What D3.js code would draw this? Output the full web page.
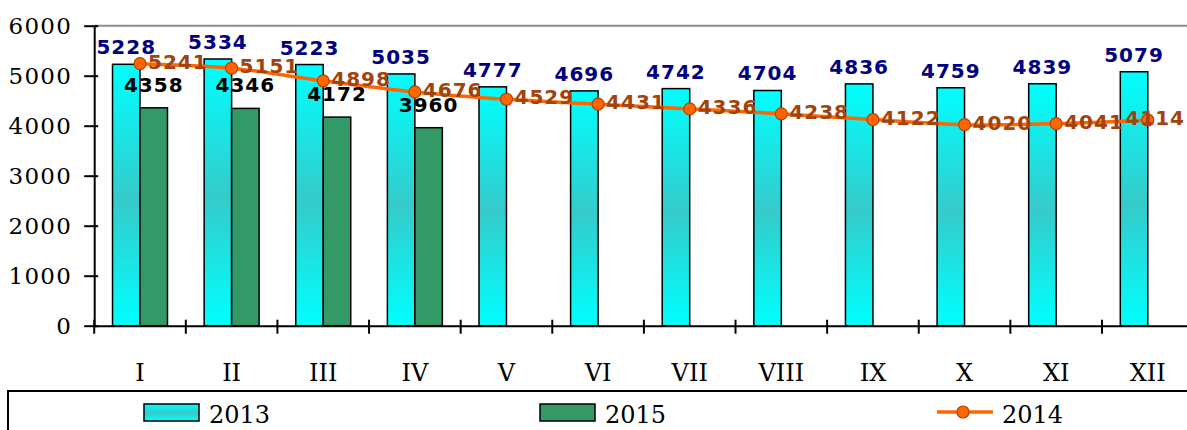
<!DOCTYPE html>
<html>
<head>
<meta charset="utf-8">
<script src="https://cdn.jsdelivr.net/npm/d3@7"></script>
<style>
  body { margin: 0; background: #fff; }
  .axis text { font-family: "DejaVu Serif", serif; fill: #000; }
  .axis path, .axis line { stroke: #000; stroke-width: 2; }
  .val { font-family: "DejaVu Sans", Verdana, sans-serif; font-weight: bold; font-size: 20px; letter-spacing: 1px; }
  .legend text { font-family: "DejaVu Serif", serif; font-size: 24px; }
</style>
</head>
<body>
<div id="chart"></div>
<script>

// months (roman numerals) and the three series
var months = ["I", "II", "III", "IV", "V", "VI", "VII", "VIII", "IX", "X", "XI", "XII"];
var values2013 = [5228, 5334, 5223, 5035, 4777, 4696, 4742, 4704, 4836, 4759, 4839, 5079];
var values2015 = [4358, 4346, 4172, 3960];
var values2014 = [5241, 5151, 4898, 4676, 4529, 4431, 4336, 4238, 4122, 4020, 4041, 4114];
var yTicks = [0, 1000, 2000, 3000, 4000, 5000, 6000];
var seriesNames = ["2013", "2015", "2014"];


/*
 * MonthVis - combined bars + smoothed line
 */

MonthVis = function(_parentElement) {
    this.parentElement = _parentElement;
    this.initVis();
};

MonthVis.prototype.initVis = function() {
    var vis = this;

    vis.margin = { top: 25.7, right: -6.6, bottom: 104.3, left: 94.2 };
    vis.width = 1187 - vis.margin.left - vis.margin.right;
    vis.height = 430 - vis.margin.top - vis.margin.bottom;

    vis.root = d3.select("#" + vis.parentElement).append("svg")
        .attr("width", 1187)
        .attr("height", 430);

    // gradient for the 2013 bars
    var grad = vis.root.append("defs").append("linearGradient")
        .attr("id", "cyanGrad")
        .attr("x1", 0).attr("y1", 0).attr("x2", 0).attr("y2", 1);
    grad.append("stop").attr("offset", "0%").attr("stop-color", "#00ffff");
    grad.append("stop").attr("offset", "52%").attr("stop-color", "#36caca");
    grad.append("stop").attr("offset", "100%").attr("stop-color", "#00ffff");

    vis.svg = vis.root.append("g")
        .attr("transform", "translate(" + vis.margin.left + "," + vis.margin.top + ")");

    vis.x = d3.scaleBand()
        .domain(months)
        .range([0, vis.width]);

    vis.xSub = d3.scaleBand()
        .domain(["2013", "2015"])
        .range([vis.x.bandwidth() * 0.2, vis.x.bandwidth() * 0.8]);

    vis.y = d3.scaleLinear()
        .domain([0, 6000])
        .range([vis.height, 0]);

    vis.wrangleData();
};

MonthVis.prototype.wrangleData = function() {
    var vis = this;

    vis.barData = [];
    months.forEach(function(m, i) {
        vis.barData.push({ month: m, key: "2013", value: values2013[i] });
        if (values2015[i] !== undefined) {
            vis.barData.push({ month: m, key: "2015", value: values2015[i] });
        }
    });

    vis.lineData = months.map(function(m, i) {
        return { month: m, value: values2014[i] };
    });

    vis.updateVis();
};

MonthVis.prototype.updateVis = function() {
    var vis = this;

    // top gridline at 6000
    vis.svg.append("line")
        .attr("x1", 0).attr("x2", vis.width)
        .attr("y1", vis.y(6000)).attr("y2", vis.y(6000))
        .attr("stroke", "#8c8c8c")
        .attr("stroke-width", 2);

    // bars
    vis.svg.selectAll(".bar")
        .data(vis.barData)
        .enter().append("rect")
        .attr("class", "bar")
        .attr("x", function(d) { return vis.x(d.month) + vis.xSub(d.key); })
        .attr("width", vis.xSub.bandwidth())
        .attr("y", function(d) { return vis.y(d.value); })
        .attr("height", function(d) { return vis.height - vis.y(d.value); })
        .attr("fill", function(d) { return d.key === "2013" ? "url(#cyanGrad)" : "#339966"; })
        .attr("stroke", "#000")
        .attr("stroke-width", 1.5);

    // y axis
    var yAxis = d3.axisLeft(vis.y)
        .tickValues(yTicks)
        .tickFormat(d3.format("d"))
        .tickSizeOuter(0)
        .tickSizeInner(10)
        .tickPadding(12);

    var yg = vis.svg.append("g")
        .attr("class", "axis y-axis")
        .call(yAxis);
    yg.selectAll(".tick line").attr("x1", 4);
    yg.selectAll(".tick text")
        .style("font-size", "23px")
        .style("letter-spacing", "1.3px");

    // x axis (labels only, ticks sit on the month boundaries)
    var xAxis = d3.axisBottom(vis.x)
        .tickSize(0)
        .tickPadding(38);

    var xg = vis.svg.append("g")
        .attr("class", "axis x-axis")
        .attr("transform", "translate(0," + vis.height + ")")
        .call(xAxis);
    xg.selectAll(".tick text").style("font-size", "24px");

    var bounds = months.map(function(m) { return vis.x(m); }).concat([vis.width]);
    xg.selectAll(".bound")
        .data(bounds)
        .enter().append("line")
        .attr("class", "bound")
        .attr("x1", function(d) { return d; })
        .attr("x2", function(d) { return d; })
        .attr("y1", -6)
        .attr("y2", 8);

    // 2014 line
    var line = d3.line()
        .x(function(d) { return vis.x(d.month) + vis.x.bandwidth() / 2; })
        .y(function(d) { return vis.y(d.value); })
        .curve(d3.curveCatmullRom);

    vis.svg.append("path")
        .datum(vis.lineData)
        .attr("d", line)
        .attr("fill", "none")
        .attr("stroke", "#ff6600")
        .attr("stroke-width", 3.5);

    vis.svg.selectAll(".dot")
        .data(vis.lineData)
        .enter().append("circle")
        .attr("class", "dot")
        .attr("cx", function(d) { return vis.x(d.month) + vis.x.bandwidth() / 2; })
        .attr("cy", function(d) { return vis.y(d.value); })
        .attr("r", 6)
        .attr("fill", "#ff6600")
        .attr("stroke", "#b84000")
        .attr("stroke-width", 1.2);

    // value labels
    vis.svg.selectAll(".val2013")
        .data(vis.barData.filter(function(d) { return d.key === "2013"; }))
        .enter().append("text")
        .attr("class", "val")
        .attr("fill", "#000080")
        .attr("text-anchor", "middle")
        .attr("x", function(d) { return vis.x(d.month) + vis.xSub(d.key) + vis.xSub.bandwidth() / 2; })
        .attr("y", function(d) { return vis.y(d.value) - 10; })
        .text(function(d) { return d.value; });

    vis.svg.selectAll(".val2015")
        .data(vis.barData.filter(function(d) { return d.key === "2015"; }))
        .enter().append("text")
        .attr("class", "val")
        .attr("fill", "#000")
        .attr("text-anchor", "middle")
        .attr("x", function(d) { return vis.x(d.month) + vis.xSub(d.key) + vis.xSub.bandwidth() / 2; })
        .attr("y", function(d) { return vis.y(d.value) - 16; })
        .text(function(d) { return d.value; });

    // line labels sit right of the marker, pulled back in at the right edge
    var maxRight = 1187 - vis.margin.left - 2;
    vis.svg.selectAll(".val2014")
        .data(vis.lineData)
        .enter().append("text")
        .attr("class", "val")
        .attr("fill", "#a3420b")
        .attr("y", function(d) { return vis.y(d.value) + 5; })
        .text(function(d) { return d.value; })
        .attr("x", function(d) {
            var px = vis.x(d.month) + vis.x.bandwidth() / 2 + 8;
            var w = this.getComputedTextLength();
            return Math.min(px, maxRight - w);
        });

    // legend
    var lg = vis.root.append("g").attr("class", "legend");
    lg.append("rect")
        .attr("x", 8).attr("y", 391)
        .attr("width", 1200).attr("height", 60)
        .attr("fill", "none")
        .attr("stroke", "#000")
        .attr("stroke-width", 2);

    lg.append("rect")
        .attr("x", 144).attr("y", 404).attr("width", 55).attr("height", 17)
        .attr("fill", "url(#cyanGrad)").attr("stroke", "#000").attr("stroke-width", 1.5);
    lg.append("text").attr("x", 209).attr("y", 423).text(seriesNames[0]);

    lg.append("rect")
        .attr("x", 540).attr("y", 404).attr("width", 55).attr("height", 17)
        .attr("fill", "#339966").attr("stroke", "#000").attr("stroke-width", 1.5);
    lg.append("text").attr("x", 605).attr("y", 423).text(seriesNames[1]);

    lg.append("line")
        .attr("x1", 937).attr("x2", 993).attr("y1", 412).attr("y2", 412)
        .attr("stroke", "#ff6600").attr("stroke-width", 3.5);
    lg.append("circle")
        .attr("cx", 963).attr("cy", 412).attr("r", 6)
        .attr("fill", "#ff6600").attr("stroke", "#b84000").attr("stroke-width", 1.2);
    lg.append("text").attr("x", 1002).attr("y", 423).text(seriesNames[2]);
};

var monthVis = new MonthVis("chart");

</script>
</body>
</html>
